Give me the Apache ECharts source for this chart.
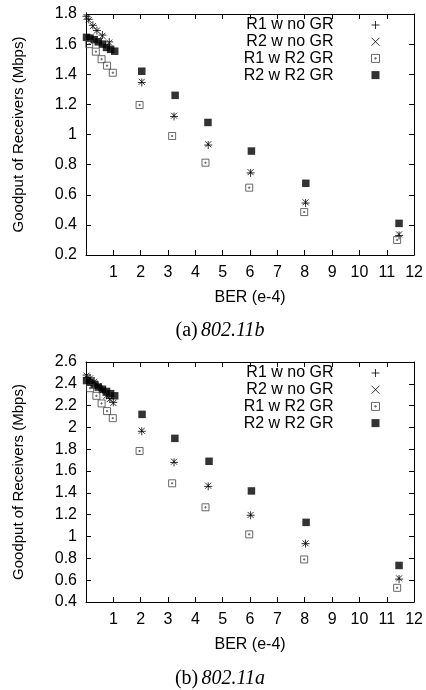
<!DOCTYPE html>
<html>
<head>
<meta charset="utf-8">
<script src="https://cdn.jsdelivr.net/npm/echarts@6/dist/echarts.min.js"></script>
<style>html,body{margin:0;padding:0;background:#fff}#c{width:426px;height:690px}</style>
</head>
<body>
<div id="c"></div>
<script>
// ---------- Data: (a) 802.11b ----------
const b_r1noGR_x = [0.02, 0.1, 0.25, 0.4, 0.6, 0.85, 2.04, 3.22, 4.47, 6.02, 8.03, 11.45];
const b_r1noGR_y = [1.785, 1.765, 1.725, 1.69, 1.66, 1.615, 1.345, 1.12, 0.93, 0.745, 0.545, 0.33];
const b_r2noGR_x = [0.02, 0.1, 0.25, 0.4, 0.6, 0.85, 2.04, 3.22, 4.47, 6.02, 8.03, 11.45];
const b_r2noGR_y = [1.78, 1.76, 1.72, 1.69, 1.655, 1.61, 1.35, 1.125, 0.935, 0.75, 0.55, 0.337];
const b_r1GR_x = [0.12, 0.36, 0.57, 0.77, 0.98, 1.96, 3.15, 4.37, 5.97, 7.98, 11.38];
const b_r1GR_y = [1.6, 1.55, 1.5, 1.457, 1.41, 1.196, 0.99, 0.813, 0.647, 0.485, 0.30];
const b_r2GR_x = [0.02, 0.15, 0.3, 0.45, 0.6, 0.75, 0.9, 1.05, 2.04, 3.26, 4.46, 6.05, 8.04, 11.45];
const b_r2GR_y = [1.645, 1.64, 1.63, 1.615, 1.6, 1.578, 1.565, 1.553, 1.42, 1.26, 1.08, 0.89, 0.676, 0.41];

// ---------- Data: (b) 802.11a ----------
const a_r1noGR_x = [0.02, 0.15, 0.3, 0.45, 0.6, 0.75, 0.87, 1.0, 2.04, 3.22, 4.47, 6.02, 8.03, 11.45];
const a_r1noGR_y = [2.48, 2.455, 2.425, 2.385, 2.345, 2.295, 2.265, 2.23, 1.965, 1.68, 1.46, 1.195, 0.935, 0.61];
const a_r2noGR_x = [0.02, 0.15, 0.3, 0.45, 0.6, 0.75, 0.87, 1.0, 2.04, 3.22, 4.47, 6.02, 8.03, 11.45];
const a_r2noGR_y = [2.475, 2.45, 2.42, 2.38, 2.34, 2.29, 2.26, 2.225, 1.97, 1.686, 1.466, 1.198, 0.938, 0.617];
const a_r1GR_x = [0.15, 0.38, 0.57, 0.77, 0.98, 1.96, 3.15, 4.37, 5.97, 7.98, 11.38];
const a_r1GR_y = [2.36, 2.29, 2.22, 2.15, 2.085, 1.784, 1.488, 1.268, 1.02, 0.79, 0.53];
const a_r2GR_x = [0.02, 0.15, 0.3, 0.45, 0.6, 0.75, 0.9, 1.05, 2.05, 3.25, 4.5, 6.05, 8.05, 11.45];
const a_r2GR_y = [2.43, 2.415, 2.39, 2.37, 2.35, 2.33, 2.31, 2.29, 2.12, 1.90, 1.69, 1.418, 1.13, 0.735];

const seriesNames = ['R1 w no GR', 'R2 w no GR', 'R1 w R2 GR', 'R2 w R2 GR'];
const xTicks = [0, 12, 1];           // min, max, interval
const yTicksB = [0.2, 1.8, 0.2];
const yTicksA = [0.4, 2.6, 0.2];
const xName = 'BER (e-4)';
const yName = 'Goodput of Receivers (Mbps)';
const captions = [['(a)', '802.11b'], ['(b)', '802.11a']];

// ---------- helpers ----------
const zip = (xs, ys) => xs.map((x, i) => [x, ys[i]]);
const FONT = 'Liberation Sans';
const SYM = {
  plus: 'path://M0,5L10,5M5,0L5,10',
  cross: 'path://M0,0L10,10M10,0L0,10',
  box: 'path://M0,0L10,0L10,10L0,10Z M4.2,4.2L5.8,4.2L5.8,5.8L4.2,5.8Z',
  fill: 'path://M0,0L10,0L10,10L0,10Z'
};
const styles = [
  { symbol: SYM.plus, size: 8, itemStyle: { color: 'transparent', borderColor: '#000', borderWidth: 1 } },
  { symbol: SYM.cross, size: 6, itemStyle: { color: 'transparent', borderColor: '#000', borderWidth: 1 } },
  { symbol: SYM.box, size: 7, itemStyle: { color: 'transparent', borderColor: '#444', borderWidth: 1 } },
  { symbol: SYM.fill, size: 7.5, itemStyle: { color: '#000', borderWidth: 0 } }
];

const grids = [
  { left: 86, right: 9, top: 14, height: 241 },
  { left: 86, right: 9, top: 362, height: 240 }
];

const xAxes = [], yAxes = [];
grids.forEach((g, gi) => {
  const yt = gi === 0 ? yTicksB : yTicksA;
  xAxes.push({
    type: 'value', gridIndex: gi, min: xTicks[0], max: xTicks[1], interval: xTicks[2],
    name: xName, nameLocation: 'middle', nameGap: 35,
    nameTextStyle: { color: '#000', fontSize: 16, fontFamily: FONT },
    axisLine: { show: true, onZero: false, lineStyle: { color: '#000', width: 1 } },
    axisTick: { show: true, inside: true, length: 5, lineStyle: { color: '#000' } },
    axisLabel: { color: '#000', fontSize: 16, fontFamily: FONT, margin: 10,
      formatter: v => (v === 0 ? '' : String(v)) },
    splitLine: { show: false }
  });
  xAxes.push({
    type: 'value', gridIndex: gi, position: 'top', min: xTicks[0], max: xTicks[1], interval: xTicks[2],
    axisLine: { show: true, onZero: false, lineStyle: { color: '#000', width: 1 } },
    axisTick: { show: true, inside: true, length: 5, lineStyle: { color: '#000' } },
    axisLabel: { show: false }, splitLine: { show: false }
  });
  yAxes.push({
    type: 'value', gridIndex: gi, min: yt[0], max: yt[1], interval: yt[2],
    name: yName, nameLocation: 'middle', nameGap: 60,
    nameTextStyle: { color: '#000', fontSize: 15, fontFamily: FONT },
    axisLine: { show: true, onZero: false, lineStyle: { color: '#000', width: 1 } },
    axisTick: { show: true, inside: true, length: 5, lineStyle: { color: '#000' } },
    axisLabel: { color: '#000', fontSize: 16, fontFamily: FONT, margin: 9 },
    splitLine: { show: false }
  });
  yAxes.push({
    type: 'value', gridIndex: gi, position: 'right', min: yt[0], max: yt[1], interval: yt[2],
    axisLine: { show: true, onZero: false, lineStyle: { color: '#000', width: 1 } },
    axisTick: { show: true, inside: true, length: 5, lineStyle: { color: '#000' } },
    axisLabel: { show: false }, splitLine: { show: false }
  });
});

const dataSets = [
  [zip(b_r1noGR_x, b_r1noGR_y), zip(b_r2noGR_x, b_r2noGR_y), zip(b_r1GR_x, b_r1GR_y), zip(b_r2GR_x, b_r2GR_y)],
  [zip(a_r1noGR_x, a_r1noGR_y), zip(a_r2noGR_x, a_r2noGR_y), zip(a_r1GR_x, a_r1GR_y), zip(a_r2GR_x, a_r2GR_y)]
];

const series = [];
dataSets.forEach((set, gi) => {
  set.forEach((d, si) => {
    const st = styles[si];
    series.push({
      type: 'scatter', name: seriesNames[si], xAxisIndex: gi * 2, yAxisIndex: gi * 2,
      data: d, symbol: st.symbol, symbolSize: st.size, symbolKeepAspect: true,
      itemStyle: st.itemStyle, silent: true, animation: false, z: si === 3 ? 2 : 3
    });
  });
});

const legendTops = [17, 365];
const legends = legendTops.map(t => ({
  orient: 'vertical', align: 'right', right: 46, top: t, padding: 0,
  itemWidth: 8, itemHeight: 8, itemGap: 0.7, selectedMode: false,
  textStyle: { color: '#000', fontSize: 16, fontFamily: FONT, padding: [0, 33, 0, 0] },
  data: seriesNames.map((n, i) => ({
    name: n, icon: styles[i].symbol,
    itemStyle: Object.assign({}, styles[i].itemStyle)
  }))
}));

const capY = [331, 679];
const graphic = captions.map((c, i) => ({
  type: 'text', x: 220, y: capY[i],
  style: {
    text: '{a|' + c[0] + '} {b|' + c[1] + '}',
    align: 'center', verticalAlign: 'middle', fill: '#000',
    rich: {
      a: { fontFamily: 'Liberation Serif', fontSize: 20, fill: '#000' },
      b: { fontFamily: 'Liberation Serif', fontSize: 20, fontStyle: 'italic', fill: '#000' }
    }
  }
}));

const chart = echarts.init(document.getElementById('c'), null, { renderer: 'canvas' });
chart.setOption({
  animation: false,
  backgroundColor: '#fff',
  grid: grids,
  xAxis: xAxes,
  yAxis: yAxes,
  legend: legends,
  series: series,
  graphic: graphic
});
</script>
</body>
</html>
